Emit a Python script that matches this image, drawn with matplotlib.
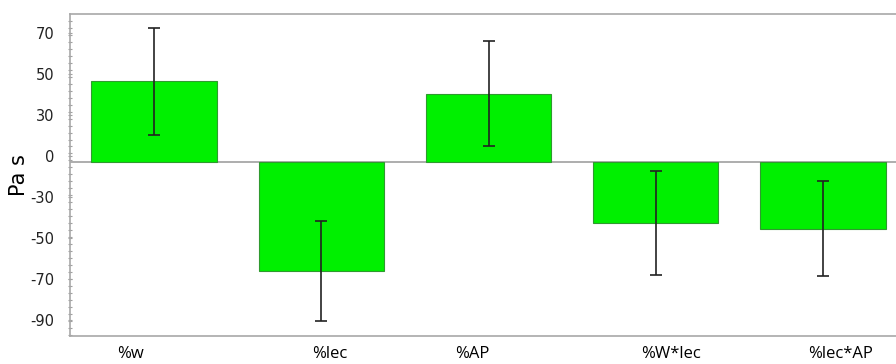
import matplotlib.pyplot as plt
import numpy as np

# values (Pa s)
terms = ['%w', '%lec', '%AP', '%W*lec', '%lec*AP']
effect = [39.6, -52.9, 33.4, -29.7, -32.3]
err = [26.0, 24.6, 25.6, 25.4, 23.1]

# y tick labels as printed on the original (they sit a bit off the zero line)
ytick_pos = [63, 43, 23, 3, -17, -37, -57, -77]
ytick_lab = ['70', '50', '30', '0', '-30', '-50', '-70', '-90']

# x labels are not centred on the bars in the original
lab_shift = [-0.144, 0.048, -0.096, 0.090, 0.108]

fig = plt.figure(figsize=(8.96, 3.64), dpi=100)
ax = fig.add_axes([70/896, 28/364, 1 - 70/896, 322/364])

x = np.arange(len(terms))
ax.bar(x, effect, width=0.75, color='#00f000', edgecolor='#2f9a2f', linewidth=0.8, zorder=2)
ax.errorbar(x, effect, yerr=err, fmt='none', ecolor='#222222', elinewidth=1.2,
            capsize=4, capthick=1.2, zorder=3)
ax.axhline(0, color='#a0a0a0', linewidth=1.2, zorder=1)

ax.set_xlim(-0.503, 4.437)
ax.set_ylim(-84.6, 72.4)

ax.set_yticks(ytick_pos)
ax.set_yticklabels(ytick_lab, fontsize=10.5, color='#222222')
ax.set_yticks(np.arange(-84, 72, 3.4), minor=True)
ax.tick_params(axis='y', which='both', direction='inout', length=3, width=0.8,
               color='#a0a0a0', pad=10)

ax.set_xticks(x + np.array(lab_shift))
ax.set_xticklabels(terms, fontsize=12, family='Open Sans')
ax.tick_params(axis='x', length=0, pad=7)

ax.set_ylabel('Pa s', fontsize=15)
ax.yaxis.set_label_coords(-0.050, 0.50)

for s in ['left', 'top', 'bottom']:
    ax.spines[s].set_color('#a8a8a8')
    ax.spines[s].set_linewidth(1.2)
ax.spines['right'].set_visible(False)

fig.savefig('out.png', dpi=100)
